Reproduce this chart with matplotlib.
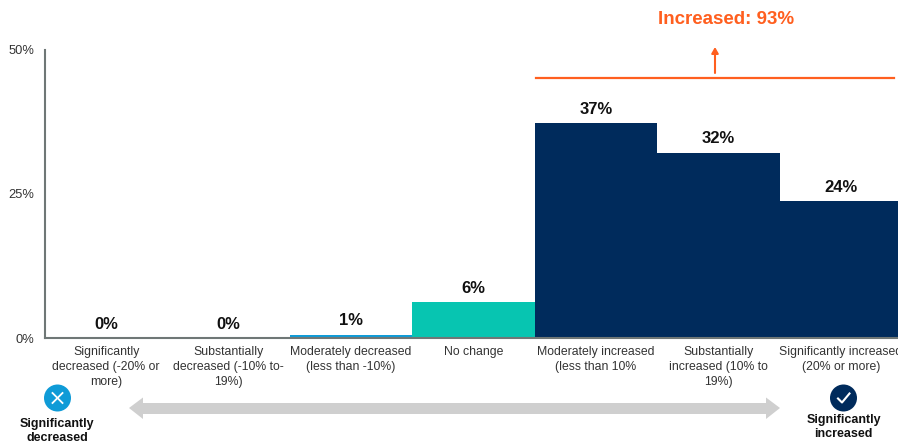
import matplotlib
matplotlib.use('Agg')
import matplotlib.pyplot as plt
from matplotlib.patches import Circle, Polygon

plt.rcParams['font.family'] = ['Liberation Sans', 'DejaVu Sans']

# Data
categories = [
    'Significantly\ndecreased (-20% or\nmore)',
    'Substantially\ndecreased (-10% to-\n19%)',
    'Moderately decreased\n(less than -10%)',
    'No change',
    'Moderately increased\n(less than 10%',
    'Substantially\nincreased (10% to\n19%)',
    'Significantly increased\n(20% or more)',
]
values = [0, 0, 0.6, 6.2, 37.3, 32.2, 23.7]
value_labels = ['0%', '0%', '1%', '6%', '37%', '32%', '24%']
bar_colors = ['#0f9bd7', '#0f9bd7', '#0f9bd7', '#07c5b1', '#002b5c', '#002b5c', '#002b5c']
yticks = [0, 25, 50]
ytick_labels = ['0%', '25%', '50%']

W, H = 898, 444
ORANGE = '#ff5f1f'
GREY = '#cfcfcf'
AXIS = '#6f7776'

fig = plt.figure(figsize=(W / 100, H / 100), dpi=100)

# bars run slightly past the right edge of the picture
ax = fig.add_axes([45 / W, (H - 338) / H, 857 / W, 288 / H])
ax.bar(range(7), values, width=1.0, color=bar_colors)
ax.set_xlim(-0.5, 6.5)
ax.set_ylim(0, 50)
ax.set_xticks([])
ax.set_yticks(yticks)
ax.set_yticklabels(ytick_labels, fontsize=9.3, color='#333333')
ax.tick_params(axis='y', length=0, pad=7.5)
for s in ['top', 'right']:
    ax.spines[s].set_visible(False)
for s in ['left', 'bottom']:
    ax.spines[s].set_color(AXIS)
    ax.spines[s].set_linewidth(1.5)

for i, (v, lab) in enumerate(zip(values, value_labels)):
    ax.annotate(lab, (i, v), xytext=(0, 4.5), textcoords='offset points',
                ha='center', va='bottom', fontsize=12, fontweight='bold', color='#111111')

for i, lab in enumerate(categories):
    ax.annotate(lab, (i, 0), xytext=(0, -6), textcoords='offset points', ha='center', va='top',
                fontsize=8.8, color='#333333', linespacing=1.33, annotation_clip=False)

# overlay in pixel coordinates for the callouts
ov = fig.add_axes([0, 0, 1, 1])
ov.set_xlim(0, W)
ov.set_ylim(H, 0)
ov.axis('off')
ov.patch.set_alpha(0)

ov.plot([536, 894], [78, 78], color=ORANGE, lw=1.6)
ov.annotate('', xy=(715, 47), xytext=(715, 73),
            arrowprops=dict(arrowstyle='-|>,head_width=0.2,head_length=0.35', color=ORANGE, lw=1.5,
                            shrinkA=0, shrinkB=0))
ov.text(726, 20, 'Increased: 93%', ha='center', va='center', fontsize=13.5,
        fontweight='bold', color=ORANGE)

# grey double arrow
ov.add_patch(Polygon([(129, 408), (143, 397.5), (143, 403), (766, 403), (766, 397.5),
                      (780, 408), (766, 419), (766, 414), (143, 414), (143, 419)],
                     closed=True, facecolor=GREY, edgecolor='none'))

# left icon
ov.add_patch(Circle((57.5, 398), 13.5, facecolor='#0f9bd7', edgecolor='none'))
ov.plot([52.5, 62.5], [393, 403], color='white', lw=1.3)
ov.plot([52.5, 62.5], [403, 393], color='white', lw=1.3)
ov.text(57, 431, 'Significantly\ndecreased', ha='center', va='center', fontsize=9.0,
        fontweight='bold', color='#111111', linespacing=1.33)

# right icon
ov.add_patch(Circle((843.5, 398), 13.5, facecolor='#002b5c', edgecolor='none'))
ov.plot([838, 842, 849.5], [398.5, 402.5, 393.5], color='white', lw=1.5)
ov.text(843.5, 427, 'Significantly\nincreased', ha='center', va='center', fontsize=9.0,
        fontweight='bold', color='#111111', linespacing=1.33)

fig.savefig('out.png', dpi=100)
